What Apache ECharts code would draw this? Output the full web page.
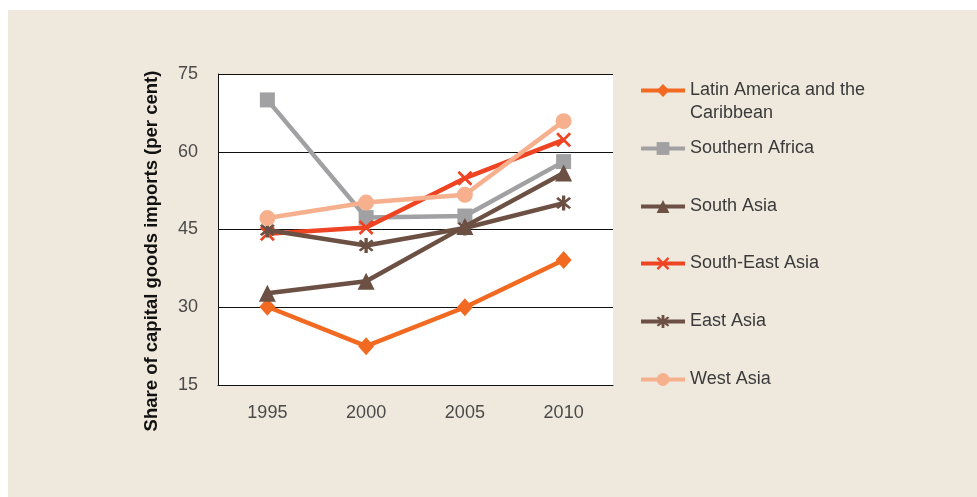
<!DOCTYPE html>
<html>
<head>
<meta charset="utf-8">
<script src="https://cdn.jsdelivr.net/npm/echarts@6/dist/echarts.min.js"></script>
<style>
  html, body { margin: 0; padding: 0; background: #ffffff; }
  #chart { width: 977px; height: 497px; }
</style>
</head>
<body>
<div id="chart"></div>
<script>
// Years on the category axis
const years = ['1995', '2000', '2005', '2010'];

// Share of capital goods imports (per cent), by region
const latinAmerica = [30.1, 22.5, 30.0, 39.1];
const southernAfrica = [70.0, 47.3, 47.6, 58.1];
const southAsia = [32.7, 35.0, 45.6, 55.9];
const southEastAsia = [44.2, 45.4, 54.9, 62.3];
const eastAsia = [44.9, 41.9, 45.3, 50.1];
const westAsia = [47.2, 50.2, 51.7, 65.9];

const regionNames = [
  'Latin America and the Caribbean',
  'Southern Africa',
  'South Asia',
  'South-East Asia',
  'East Asia',
  'West Asia'
];

// Marker shapes built as filled outlines
const d = 1.3;
const xShape = 'path://M0,' + d + 'L' + d + ',0L5,' + (5 - d) + 'L' + (10 - d) + ',0L10,' + d +
  'L' + (5 + d) + ',5L10,' + (10 - d) + 'L' + (10 - d) + ',10L5,' + (5 + d) +
  'L' + d + ',10L0,' + (10 - d) + 'L' + (5 - d) + ',5Z';
const e = 1.1;
const starShape = 'path://M1,' + (1 + e) + 'L' + (1 + e) + ',1L5,' + (5 - e) + 'L' + (9 - e) + ',1L9,' + (1 + e) +
  'L' + (5 + e) + ',5L9,' + (9 - e) + 'L' + (9 - e) + ',9L5,' + (5 + e) +
  'L' + (1 + e) + ',9L1,' + (9 - e) + 'L' + (5 - e) + ',5Z' +
  'M' + (5 - e * 0.8) + ',0L' + (5 + e * 0.8) + ',0L' + (5 + e * 0.8) + ',10L' + (5 - e * 0.8) + ',10Z';

const colors = ['#f26a21', '#a1a1a3', '#6b5043', '#ef4424', '#6b5043', '#f7b08e'];
const symbols = ['diamond', 'rect', 'triangle', xShape, starShape, 'circle'];
const symbolSizes = [[16, 18], 15, 17, 15, 15, 16];
const values = [latinAmerica, southernAfrica, southAsia, southEastAsia, eastAsia, westAsia];

const legendTops = [89, 147, 205, 262, 320, 378];
const fontFamily = 'Liberation Sans, Arial, sans-serif';

const series = regionNames.map((name, i) => ({
  name: name,
  type: 'line',
  data: values[i],
  symbol: symbols[i],
  symbolSize: symbolSizes[i],
  showAllSymbol: true,
  lineStyle: { color: colors[i], width: 4.5 },
  itemStyle: { color: colors[i], borderWidth: 0 },
  emphasis: { disabled: true },
  z: 2 + i
}));

// One legend block per region so each entry sits at its own height;
// the first entry wraps with a leading blank line so its icon lines up with the first text line
const itemH = 16;
const legends = regionNames.map((name, i) => ({
  data: [name],
  left: 639,
  top: legendTops[i] - itemH / 2 - 2 - (i === 0 ? 23 : 0),
  itemWidth: 44,
  itemHeight: itemH,
  itemGap: 0,
  padding: 0,
  selectedMode: false,
  lineStyle: { width: 4 },
  formatter: n => n === 'Latin America and the Caribbean' ? ' \nLatin America and the\nCaribbean' : n,
  textStyle: { color: '#3a3a3a', fontSize: 18, fontFamily: fontFamily, lineHeight: 23 }
}));

const chart = echarts.init(document.getElementById('chart'), null, { renderer: 'canvas' });
chart.setOption({
  backgroundColor: '#ffffff',
  animation: false,
  graphic: [
    {
      type: 'rect',
      left: 8, top: 10,
      shape: { width: 969, height: 487 },
      style: { fill: '#efe9dd' },
      z: -10
    },
    {
      type: 'text',
      x: 152, y: 251,
      rotation: Math.PI / 2,
      style: {
        text: 'Share of capital goods imports (per cent)',
        fill: '#111111',
        fontSize: 18.5,
        fontWeight: 'bold',
        fontFamily: fontFamily,
        align: 'center',
        verticalAlign: 'middle'
      }
    }
  ],
  legend: legends,
  grid: {
    left: 218, top: 74, right: 364, bottom: 112,
    show: true, backgroundColor: '#ffffff', borderWidth: 0
  },
  xAxis: {
    type: 'category',
    data: years,
    boundaryGap: true,
    axisLine: { lineStyle: { color: '#111111', width: 1 } },
    axisTick: { show: false },
    axisLabel: { color: '#4a4a4a', fontSize: 18, margin: 19, fontFamily: fontFamily }
  },
  yAxis: {
    type: 'value',
    min: 15, max: 75, interval: 15,
    axisLine: { show: true, lineStyle: { color: '#111111', width: 1 } },
    axisTick: { show: false },
    splitLine: { lineStyle: { color: '#111111', width: 1 } },
    axisLabel: { color: '#4a4a4a', fontSize: 18, margin: 20, fontFamily: fontFamily }
  },
  series: series
});
</script>
</body>
</html>
